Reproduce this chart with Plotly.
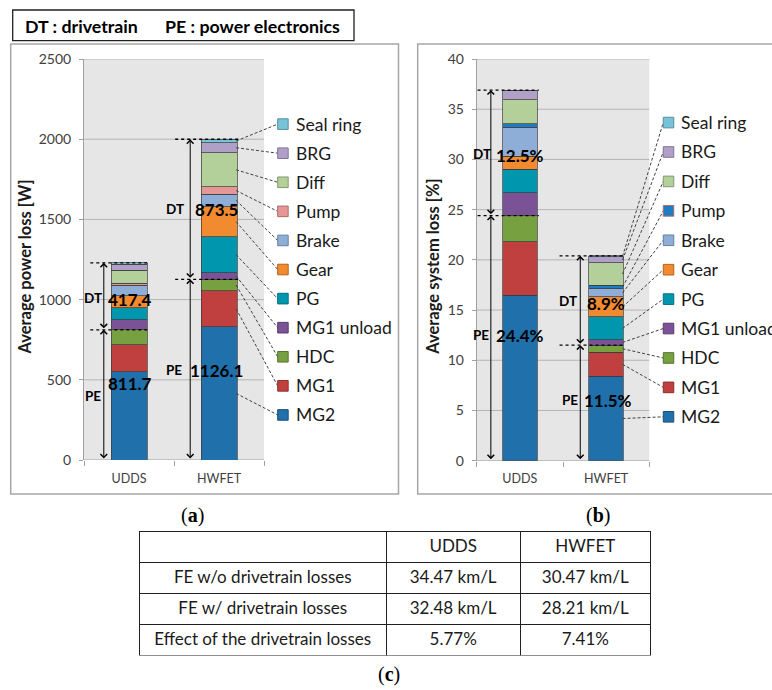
import numpy as np
import plotly.graph_objects as go

# ---------------- data ----------------
categories = ["UDDS", "HWFET"]
components = ["MG2", "MG1", "HDC", "MG1 unload", "PG", "Gear", "Brake", "Pump", "Diff", "BRG", "Seal ring"]

power_loss_udds = [551, 166, 94.7, 62, 75, 75, 67, 11, 81, 39, 7.4]
power_loss_hwfet = [830, 226, 70.1, 41, 225, 187, 79, 44, 214, 62, 21.5]
system_loss_udds = [16.5, 5.3, 2.6, 2.3, 2.3, 1.3, 2.9, 0.33, 2.4, 0.92, 0.05]
system_loss_hwfet = [8.4, 2.4, 0.7, 0.55, 2.26, 2.0, 0.8, 0.36, 2.23, 0.6, 0.1]

pe_power = [811.7, 1126.1]
dt_power = [417.4, 873.5]
pe_system = [24.4, 11.5]
dt_system = [12.5, 8.9]

table_header = ["", "UDDS", "HWFET"]
table_rows = ["FE w/o drivetrain losses", "FE w/ drivetrain losses", "Effect of the drivetrain losses"]
fe_udds = ["34.47 km/L", "32.48 km/L", "5.77%"]
fe_hwfet = ["30.47 km/L", "28.21 km/L", "7.41%"]

# ---------------- styles ----------------
colors_a = ["#1f70ab", "#c0403f", "#77a141", "#7a5295", "#0097ae", "#f28a30",
            "#8eaed8", "#e69697", "#b4d09a", "#b0a0c8", "#77c4d8"]
colors_b = list(colors_a)
colors_b[7] = "#1e7bc4"
edge_colors = ["#1a4f7a", "#8c2e2d", "#557330", "#573a6b", "#006e80", "#b0621f",
               "#6680a0", "#a86d6e", "#839870", "#80739a", "#568f9e"]

W, H = 772, 690
FONT = "Lato"
TXT = "#1a1a1a"
AX = "#a0a0a0"

def px(x):
    return x / W

def py(y):
    return 1 - y / H

fig = go.Figure()

panels = [
    dict(xa="x", ya="y", data=[power_loss_udds, power_loss_hwfet], colors=colors_a,
         pe=pe_power, dt=dt_power, ymax=2500, dtick=500,
         dom_x=[px(84), px(398.5)], dom_y=[py(460), py(59)],
         xr=[-0.5, -0.5 + (398.5 - 84) / 90.0],
         leg_x=1.652, txt_x=1.833, leg_top=2094, leg_step=181.3,
         arrow_x=[-0.28, -0.32], dot_x0=[-0.43, -0.487], fmt="{:.1f}",
         lab=[dict(dt=(-0.405, 1010), num_dt=(0.01, 998), pe=(-0.395, 399), num_pe=(0.01, 474)),
              dict(dt=(-0.487, 1565), num_dt=(-0.03, 1559), pe=(-0.495, 561), num_pe=(-0.03, 561))]),
    dict(xa="x2", ya="y2", data=[system_loss_udds, system_loss_hwfet], colors=colors_b,
         pe=pe_system, dt=dt_system, ymax=40, dtick=5,
         dom_x=[px(476.7), 1.0], dom_y=[py(460.7), py(59)],
         xr=[-0.5, -0.5 + (772 - 476.7) / 86.3],
         leg_x=1.662, txt_x=1.848, leg_top=33.67, leg_step=2.93,
         arrow_x=[-0.336, -0.30], dot_x0=[-0.49, -0.54], fmt="{:.1f}%",
         lab=[dict(dt=(-0.444, 30.5), num_dt=(0.0, 30.35), pe=(-0.455, 12.5), num_pe=(0.0, 12.5)),
              dict(dt=(-0.439, 15.9), num_dt=(0.0, 15.7), pe=(-0.42, 6.0), num_pe=(0.02, 6.0))]),
]

shapes = []
annotations = []
BW = 0.4

def ann(**kw):
    d = dict(showarrow=False, xanchor="center", yanchor="middle")
    d.update(kw)
    annotations.append(d)

for p in panels:
    xa, ya = p["xa"], p["ya"]
    vals = np.array(p["data"])  # shape (2, ncomp)
    # background + grid
    shapes.append(dict(type="rect", xref=xa, yref=ya, x0=-0.5, x1=1.5, y0=0, y1=p["ymax"],
                       fillcolor="#e6e6e6", line=dict(width=0), layer="below"))
    for v in np.arange(p["dtick"], p["ymax"] + p["dtick"] / 2, p["dtick"]):
        shapes.append(dict(type="line", xref=xa, yref=ya, x0=-0.5, x1=1.5, y0=v, y1=v,
                           line=dict(color="#b5b5b5", width=1), layer="below"))
    shapes.append(dict(type="line", xref=xa, yref=ya, x0=-0.5, x1=1.5, y0=0, y1=0,
                       line=dict(color=AX, width=1), layer="below"))
    # bars
    for i, comp in enumerate(components):
        fig.add_trace(go.Bar(x=categories, y=vals[:, i], name=comp, width=BW,
                             marker=dict(color=p["colors"][i], line=dict(color="#3a3a3a", width=0.7)),
                             xaxis=xa, yaxis=ya, showlegend=False))
    # legend (custom) with leader lines to HWFET bar
    cum = np.cumsum(vals[1])
    mids = cum - vals[1] / 2
    for j, i in enumerate(range(len(components) - 1, -1, -1)):
        ly = p["leg_top"] - j * p["leg_step"]
        shapes.append(dict(type="line", xref=xa, yref=ya, x0=1 + BW / 2 - 0.01, y0=mids[i],
                           x1=p["leg_x"], y1=ly, line=dict(color="#404040", width=1, dash="3px,2px")))
        shapes.append(dict(type="rect", xref=xa, yref=ya, xsizemode="pixel", ysizemode="pixel",
                           xanchor=p["leg_x"], yanchor=ly, x0=0, x1=10.5, y0=-5.3, y1=5.3,
                           fillcolor=p["colors"][i], line=dict(color=edge_colors[i], width=1)))
        ann(xref=xa, yref=ya, x=p["txt_x"], y=ly, text=components[i], xanchor="left",
            font=dict(family=FONT, size=17.5, color=TXT))
    # PE / DT arrows, dotted lines and labels
    for c in range(len(categories)):
        pe_top = p["pe"][c]
        tot = p["pe"][c] + p["dt"][c]
        axx = c + p["arrow_x"][c]
        for (y_lo, y_hi) in [(0, pe_top), (pe_top, tot)]:
            annotations.append(dict(xref=xa, yref=ya, axref=xa, ayref=ya, x=axx, y=y_hi,
                                    ax=axx, ay=y_lo, text="", showarrow=True,
                                    arrowhead=4, startarrowhead=4, arrowside="end+start",
                                    arrowsize=1.3, startarrowsize=1.3, arrowwidth=1,
                                    arrowcolor="black", standoff=0, startstandoff=0))
        for yv in [pe_top, tot]:
            shapes.append(dict(type="line", xref=xa, yref=ya, x0=c + p["dot_x0"][c], x1=c + BW / 2 + 0.02,
                               y0=yv, y1=yv, line=dict(color="black", width=1.3, dash="dot")))
        lab = p["lab"][c]
        ann(xref=xa, yref=ya, x=c + lab["dt"][0], y=lab["dt"][1], text="<b>DT</b>",
            font=dict(family=FONT, size=13.5, color="black"))
        ann(xref=xa, yref=ya, x=c + lab["pe"][0], y=lab["pe"][1], text="<b>PE</b>",
            font=dict(family=FONT, size=13.5, color="black"))
        ann(xref=xa, yref=ya, x=c + lab["num_dt"][0], y=lab["num_dt"][1],
            text="<b>" + p["fmt"].format(p["dt"][c]) + "</b>",
            font=dict(family=FONT, size=17, color="black"))
        ann(xref=xa, yref=ya, x=c + lab["num_pe"][0], y=lab["num_pe"][1],
            text="<b>" + p["fmt"].format(p["pe"][c]) + "</b>",
            font=dict(family=FONT, size=17, color="black"))

# axis titles
ann(xref="paper", yref="paper", x=px(25), y=py(267.5), text="<b>Average power loss [W]</b>",
    textangle=-90, font=dict(family=FONT, size=16.5, color=TXT))
ann(xref="paper", yref="paper", x=px(433), y=py(266.7), text="<b>Average system loss [%]</b>",
    textangle=-90, font=dict(family=FONT, size=16.5, color=TXT))

# header box
shapes.append(dict(type="rect", xref="paper", yref="paper", x0=px(12.7), x1=px(354), y0=py(40.7), y1=py(10),
                   line=dict(color="#202020", width=1.3), fillcolor="white"))
ann(xref="paper", yref="paper", x=px(22.7), y=py(25.5), text="<b>DT : drivetrain</b>",
    xanchor="left", font=dict(family=FONT, size=17.8, color="black"))
ann(xref="paper", yref="paper", x=px(163.3), y=py(25.5), text="<b>PE : power electronics</b>",
    xanchor="left", font=dict(family=FONT, size=17.8, color="black"))

# panel frames
shapes.append(dict(type="rect", xref="paper", yref="paper", x0=px(10.7), x1=px(398.5), y0=py(494), y1=py(44),
                   line=dict(color="#a6a6a6", width=1.5)))
shapes.append(dict(type="rect", xref="paper", yref="paper", x0=px(417.7), x1=px(790), y0=py(494), y1=py(44),
                   line=dict(color="#a6a6a6", width=1.5)))

# captions
for txt, x, y in [("(<b>a</b>)", 192, 515), ("(<b>b</b>)", 598, 515), ("(<b>c</b>)", 389, 674)]:
    ann(xref="paper", yref="paper", x=px(x), y=py(y), text=txt,
        font=dict(family="Liberation Serif", size=20, color="black"))

# table
fig.add_trace(go.Table(
    domain=dict(x=[px(139.3), px(650.5)], y=[py(655.5), py(531.5)]),
    columnwidth=[246.7, 134, 130],
    header=dict(values=table_header, height=31, align="center", fill_color="white",
                line=dict(color="#202020", width=1), font=dict(family=FONT, size=17, color=TXT)),
    cells=dict(values=[table_rows, fe_udds, fe_hwfet], height=31, align="center", fill_color="white",
               line=dict(color="#202020", width=1), font=dict(family=FONT, size=17, color=TXT)),
))

axis_common = dict(showgrid=False, zeroline=False)
fig.update_layout(
    width=W, height=H, margin=dict(l=0, r=0, t=0, b=0, autoexpand=False),
    paper_bgcolor="white", plot_bgcolor="rgba(0,0,0,0)",
    barmode="stack", showlegend=False,
    shapes=shapes, annotations=annotations,
    xaxis=dict(domain=panels[0]["dom_x"], anchor="y", type="category", categoryorder="array",
               categoryarray=categories, range=panels[0]["xr"], tickson="boundaries",
               ticks="outside", ticklen=5, tickcolor=AX, showline=False, ticklabelstandoff=9,
               tickfont=dict(family=FONT, size=12.5, color="#404040"), **axis_common),
    yaxis=dict(domain=panels[0]["dom_y"], anchor="x", range=[0, 2500], dtick=500,
               ticks="outside", ticklen=4, tickcolor=AX, showline=True, linecolor=AX, linewidth=1,
               ticklabelstandoff=5, tickfont=dict(family=FONT, size=14, color="#404040"), **axis_common),
    xaxis2=dict(domain=panels[1]["dom_x"], anchor="y2", type="category", categoryorder="array",
                categoryarray=categories, range=panels[1]["xr"], tickson="boundaries",
                ticks="outside", ticklen=5, tickcolor=AX, showline=False, ticklabelstandoff=9,
                tickfont=dict(family=FONT, size=12.5, color="#404040"), **axis_common),
    yaxis2=dict(domain=panels[1]["dom_y"], anchor="x2", range=[0, 40], dtick=5,
                ticks="outside", ticklen=4, tickcolor=AX, showline=True, linecolor=AX, linewidth=1,
                ticklabelstandoff=5, tickfont=dict(family=FONT, size=14, color="#404040"), **axis_common),
)

fig.write_html("out.html")
